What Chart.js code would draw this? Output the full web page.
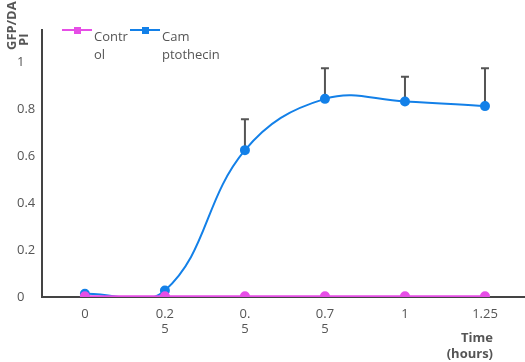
<!DOCTYPE html>
<html>
<head>
<meta charset="utf-8">
<script src="https://cdn.jsdelivr.net/npm/chart.js@4"></script>
<style>
  html, body { margin: 0; padding: 0; background: #fff; }
  #wrap { width: 525px; height: 362px; }
</style>
</head>
<body>
<div id="wrap"><canvas id="chart" width="525" height="362"></canvas></div>
<script>
// data
const times = [0, 0.25, 0.5, 0.75, 1, 1.25];
const xTickLabels = [["0"], ["0.2", "5"], ["0.", "5"], ["0.7", "5"], ["1"], ["1.25"]];
const yTickValues = [0, 0.2, 0.4, 0.6, 0.8, 1];
const seriesNames = [["Contr", "ol"], ["Cam", "ptothecin"]];
const controlValues = [0.003, 0.003, 0.003, 0.003, 0.003, 0.003];
const campValues = [0.014, 0.028, 0.627, 0.846, 0.835, 0.815];
const campErrUp = [0, 0, 0.132, 0.131, 0.105, 0.162];

const PINK = "#e64ee6";
const BLUE = "#1380e8";
const GREY = "#555";
const FONT = "'Open Sans', sans-serif";

// error bars (upper only, with caps)
const errorBars = {
  id: "errorBars",
  beforeDatasetsDraw(chart) {
    const ctx = chart.ctx;
    const x = chart.scales.x, y = chart.scales.y;
    ctx.save();
    ctx.strokeStyle = GREY;
    ctx.lineWidth = 2;
    times.forEach((t, i) => {
      if (!campErrUp[i]) return;
      const px = x.getPixelForValue(t);
      const y0 = y.getPixelForValue(campValues[i]);
      const y1 = y.getPixelForValue(campValues[i] + campErrUp[i]);
      ctx.beginPath();
      ctx.moveTo(px, y0);
      ctx.lineTo(px, y1);
      ctx.moveTo(px - 4, y1);
      ctx.lineTo(px + 4, y1);
      ctx.stroke();
    });
    ctx.restore();
  }
};

// titles and legend placed like the reference
const extras = {
  id: "extras",
  afterDraw(chart) {
    const ctx = chart.ctx;
    ctx.save();
    ctx.fillStyle = GREY;
    ctx.font = "bold 13px " + FONT;
    ctx.textAlign = "right";
    ctx.textBaseline = "middle";
    ctx.fillText("Time", 493, 338);
    ctx.fillText("(hours)", 493, 354);

    ctx.save();
    ctx.translate(12, 50);
    ctx.rotate(-Math.PI / 2);
    ctx.textAlign = "left";
    ctx.fillText("GFP/DA", 0, 0);
    ctx.fillText("PI", 4, 12);
    ctx.restore();

    // legend
    ctx.font = "13px " + FONT;
    ctx.textAlign = "left";
    const items = [
      { x: 62, color: PINK, text: seriesNames[0] },
      { x: 130, color: BLUE, text: seriesNames[1] }
    ];
    items.forEach(it => {
      ctx.strokeStyle = it.color;
      ctx.fillStyle = it.color;
      ctx.lineWidth = 2;
      ctx.beginPath();
      ctx.moveTo(it.x, 30);
      ctx.lineTo(it.x + 30, 30);
      ctx.stroke();
      ctx.fillRect(it.x + 12, 27, 7, 7);
      ctx.fillStyle = GREY;
      it.text.forEach((line, k) => ctx.fillText(line, it.x + 32, 37 + k * 18));
    });
    ctx.restore();
  }
};

new Chart(document.getElementById("chart"), {
  type: "line",
  data: {
    datasets: [
      {
        label: "Control",
        data: times.map((t, i) => ({ x: t, y: controlValues[i] })),
        borderColor: PINK,
        backgroundColor: PINK,
        borderWidth: 2,
        pointRadius: 4,
        tension: 0
      },
      {
        label: "Camptothecin",
        data: times.map((t, i) => ({ x: t, y: campValues[i] })),
        borderColor: BLUE,
        backgroundColor: BLUE,
        borderWidth: 2,
        pointRadius: 4,
        tension: 0.4,
        capBezierPoints: false
      }
    ]
  },
  options: {
    responsive: false,
    animation: false,
    layout: { autoPadding: false, padding: { left: 17, top: 30, right: 0, bottom: 0 } },
    plugins: { legend: { display: false }, tooltip: { enabled: false } },
    scales: {
      x: {
        type: "linear",
        min: -0.134,
        max: 1.375,
        grid: { display: false, drawTicks: false },
        border: { color: "#444", width: 2 },
        afterBuildTicks: s => { s.ticks = times.map(v => ({ value: v })); },
        afterFit: s => { s.height = 65; s.paddingLeft = 0; s.paddingRight = 0; },
        ticks: {
          padding: 9,
          color: GREY,
          font: { family: FONT, size: 13 },
          maxRotation: 0,
          autoSkip: false,
          callback: v => xTickLabels[times.indexOf(v)]
        }
      },
      y: {
        min: 0,
        max: 1.14,
        grid: { display: false, drawTicks: false },
        border: { color: "#444", width: 2 },
        afterBuildTicks: s => { s.ticks = yTickValues.map(v => ({ value: v })); },
        afterFit: s => { s.width = 25; s.paddingTop = 0; s.paddingBottom = 0; },
        ticks: {
          color: GREY,
          crossAlign: "far",
          padding: 4,
          font: { family: FONT, size: 13 },
          callback: v => String(v)
        }
      }
    }
  },
  plugins: [errorBars, extras]
});
</script>
</body>
</html>
